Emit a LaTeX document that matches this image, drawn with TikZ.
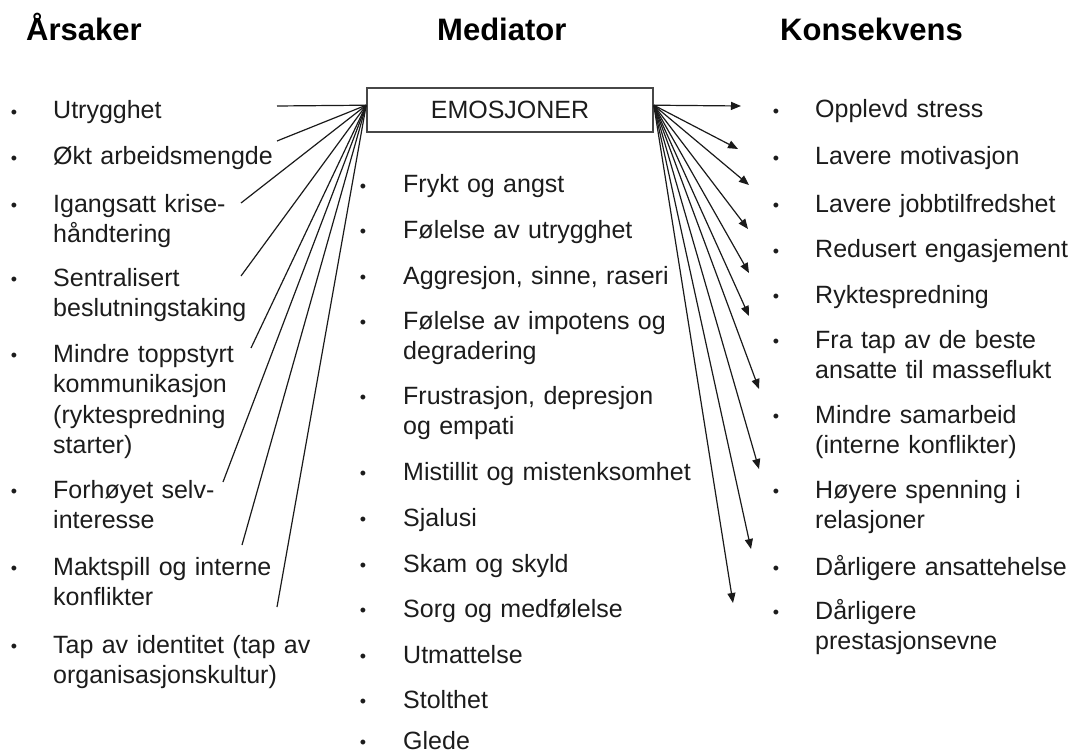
\documentclass[tikz,border=0pt]{standalone}
\usepackage{fontspec}
\setmainfont{Liberation Sans}
\usetikzlibrary{arrows.meta}
\definecolor{txt}{HTML}{1C1C1C}
\definecolor{ln}{HTML}{1A1A1A}
\definecolor{boxln}{HTML}{474747}
\begin{document}
\begin{tikzpicture}[x=1pt,y=-1pt,
  head/.style={anchor=base west,inner sep=0pt,font=\fontsize{31}{36}\selectfont\bfseries,text=black},
  item/.style={anchor=base west,inner sep=0pt,text width=330pt,align=left,font=\fontsize{25}{30.5}\selectfont,text=txt},
  bul/.style={anchor=base,inner sep=0pt,yshift=0.5pt,font=\fontsize{18}{20}\selectfont,text=txt},
  emobox/.style={draw=boxln,line width=1.6pt,minimum width=286pt,minimum height=44pt,inner sep=0pt,font=\fontsize{25}{30.5}\selectfont,text=txt},
  conn/.style={draw=ln,line width=1.2pt},
  arr/.style={draw=ln,line width=1.2pt,-{Triangle[length=10pt,width=8pt]}}]
\useasboundingbox (0,0) rectangle (1076,754);

% headings
\node[head] (h1) at (26,41) {Årsaker};
\node[head] (h2) at (437,41) {Mediator};
\node[head] (h3) at (780,41) {Konsekvens};

% mediator box
\node[emobox] (box) at (510,110) {EMOSJONER};
\coordinate (bl) at ([yshift=-18pt]box.north west);
\coordinate (br) at ([yshift=-18pt]box.north east);

% left items
\node[bul] (lb1) at (14,119) {•};
\node[item] (l1) at (53,119) {Utrygghet};
\node[bul] (lb2) at (14,165) {•};
\node[item] (l2) at (53,165) {Økt arbeidsmengde};
\node[bul] (lb3) at (14,212) {•};
\node[item] (l3) at (53,212) {Igangsatt krise-\\håndtering};
\node[bul] (lb4) at (14,286) {•};
\node[item] (l4) at (53,286) {Sentralisert\\beslutningstaking};
\node[bul] (lb5) at (14,362) {•};
\node[item] (l5) at (53,362) {Mindre toppstyrt\\kommunikasjon\\(ryktespredning\\starter)};
\node[bul] (lb6) at (14,498) {•};
\node[item] (l6) at (53,498) {Forhøyet selv-\\interesse};
\node[bul] (lb7) at (14,575) {•};
\node[item] (l7) at (53,575) {Maktspill og interne\\konflikter};
\node[bul] (lb8) at (14,653) {•};
\node[item] (l8) at (53,653) {Tap av identitet (tap av\\organisasjonskultur)};

% mediator items
\node[bul] (mb1) at (363,193) {•};
\node[item] (m1) at (403,193) {Frykt og angst};
\node[bul] (mb2) at (363,238) {•};
\node[item] (m2) at (403,238) {Følelse av utrygghet};
\node[bul] (mb3) at (363,284) {•};
\node[item] (m3) at (403,284) {Aggresjon, sinne, raseri};
\node[bul] (mb4) at (363,329) {•};
\node[item] (m4) at (403,329) {Følelse av impotens og\\degradering};
\node[bul] (mb5) at (363,404) {•};
\node[item] (m5) at (403,404) {Frustrasjon, depresjon\\og empati};
\node[bul] (mb6) at (363,480) {•};
\node[item] (m6) at (403,480) {Mistillit og mistenksomhet};
\node[bul] (mb7) at (363,526) {•};
\node[item] (m7) at (403,526) {Sjalusi};
\node[bul] (mb8) at (363,572) {•};
\node[item] (m8) at (403,572) {Skam og skyld};
\node[bul] (mb9) at (363,617) {•};
\node[item] (m9) at (403,617) {Sorg og medfølelse};
\node[bul] (mb10) at (363,663) {•};
\node[item] (m10) at (403,663) {Utmattelse};
\node[bul] (mb11) at (363,708) {•};
\node[item] (m11) at (403,708) {Stolthet};
\node[bul] (mb12) at (363,749) {•};
\node[item] (m12) at (403,749) {Glede};

% right items
\node[bul] (rb1) at (776,118) {•};
\node[item] (r1) at (815,118) {Opplevd stress};
\node[bul] (rb2) at (776,165) {•};
\node[item] (r2) at (815,165) {Lavere motivasjon};
\node[bul] (rb3) at (776,212) {•};
\node[item] (r3) at (815,212) {Lavere jobbtilfredshet};
\node[bul] (rb4) at (776,258) {•};
\node[item] (r4) at (815,258) {Redusert engasjement};
\node[bul] (rb5) at (776,303) {•};
\node[item] (r5) at (815,303) {Ryktespredning};
\node[bul] (rb6) at (776,348) {•};
\node[item] (r6) at (815,348) {Fra tap av de beste\\ansatte til masseflukt};
\node[bul] (rb7) at (776,423) {•};
\node[item] (r7) at (815,423) {Mindre samarbeid\\(interne konflikter)};
\node[bul] (rb8) at (776,498) {•};
\node[item] (r8) at (815,498) {Høyere spenning i\\relasjoner};
\node[bul] (rb9) at (776,575) {•};
\node[item] (r9) at (815,575) {Dårligere ansattehelse};
\node[bul] (rb10) at (776,619) {•};
\node[item] (r10) at (815,619) {Dårligere\\prestasjonsevne};

% left connector free ends
\coordinate (le1) at (277,106);
\coordinate (le2) at (277,141);
\coordinate (le3) at (241,203);
\coordinate (le4) at (241,276);
\coordinate (le5) at (251,348);
\coordinate (le6) at (223,482);
\coordinate (le7) at (242,545);
\coordinate (le8) at (277,607);
\foreach \i in {1,...,8} \draw[conn] (le\i) -- (bl);

% right arrow ends
\coordinate (re1) at (741,106);
\coordinate (re2) at (738,149);
\coordinate (re3) at (749,185);
\coordinate (re4) at (748,229);
\coordinate (re5) at (749,273);
\coordinate (re6) at (749,316);
\coordinate (re7) at (759,389);
\coordinate (re8) at (759,469);
\coordinate (re9) at (751,549);
\coordinate (re10) at (733,603);
\foreach \i in {1,...,10} \draw[arr] (br) -- (re\i);
\end{tikzpicture}
\end{document}
